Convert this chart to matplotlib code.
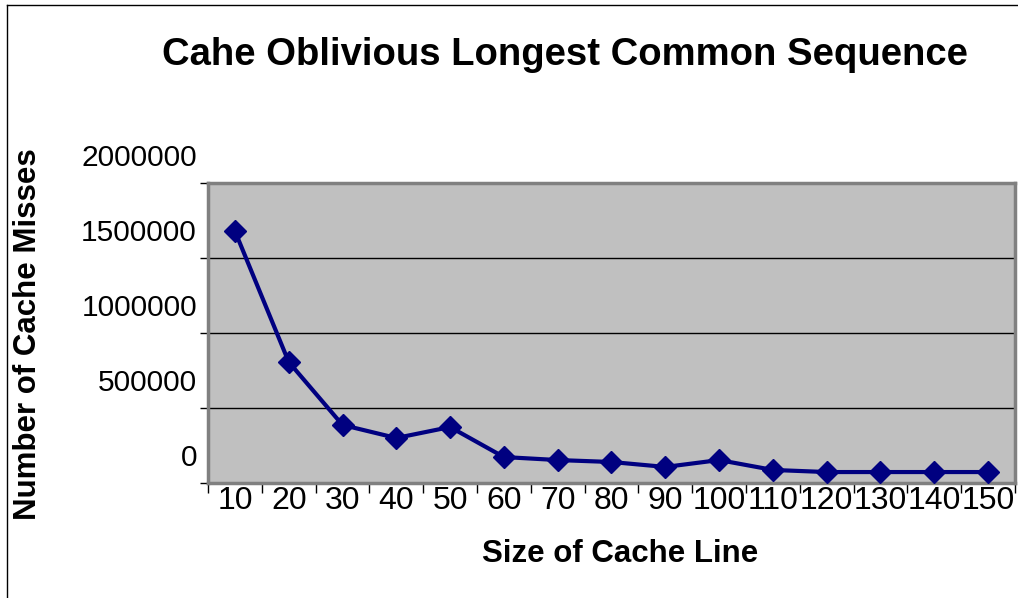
import numpy as np
import matplotlib
matplotlib.use("Agg")
import matplotlib.pyplot as plt
from matplotlib.transforms import ScaledTranslation
from matplotlib.lines import Line2D

# data
line_sizes = ['10', '20', '30', '40', '50', '60', '70', '80', '90', '100',
              '110', '120', '130', '140', '150']
cache_misses = [1680000, 807000, 387000, 300000, 373000, 173000, 153000, 140000,
                107000, 153000, 87000, 73000, 73000, 73000, 73000]
y_ticks = [0, 500000, 1000000, 1500000, 2000000]

plt.rcParams['font.family'] = ['Liberation Sans', 'DejaVu Sans']

fig = plt.figure(figsize=(10.18, 5.98), dpi=100)
ax = fig.add_axes([208 / 1018, 1 - 483 / 598, 807 / 1018, 300 / 598])

x = np.arange(len(line_sizes))
ax.plot(x, cache_misses, color='#000080', lw=3, marker='D', ms=11,
        mfc='#000080', mec='#000080', zorder=5, clip_on=False)

ax.set_facecolor('#c0c0c0')
ax.set_xlim(-0.5, len(line_sizes) - 0.5)
ax.set_ylim(0, 2000000)

# gridlines
for v in y_ticks[1:-1]:
    ax.axhline(v, color='black', lw=1, zorder=1)

for s in ax.spines.values():
    s.set_color('#808080')
    s.set_linewidth(2.5)

# y axis: labels sit a bit above the tick marks, like the original
ax.set_yticks(y_ticks)
ax.set_yticklabels([str(v) for v in y_ticks], fontsize=21.5)
ax.tick_params(axis='y', direction='out', length=6, width=1, color='black', pad=2)
for lab in ax.get_yticklabels():
    lab.set_transform(lab.get_transform() + ScaledTranslation(0, 0.28, fig.dpi_scale_trans))

# x axis: labels at category centres, tick marks between categories
ax.set_xticks(x)
ax.set_xticklabels(line_sizes, fontsize=23)
ax.set_xticks(np.arange(len(line_sizes) + 1) - 0.5, minor=True)
ax.tick_params(axis='x', which='major', length=0, pad=2)
ax.tick_params(axis='x', which='minor', direction='out', length=7, width=1, color='black')

fig.text(565 / 1018, 1 - 55 / 598, 'Cahe Oblivious Longest Common Sequence',
         fontsize=27.5, fontweight='bold', ha='center', va='center')
fig.text(28 / 1018, 1 - 334 / 598, 'Number of Cache Misses', fontsize=22.5,
         fontweight='bold', rotation=90, ha='center', va='center')
fig.text(620 / 1018, 1 - 554 / 598, 'Size of Cache Line', fontsize=22.5,
         fontweight='bold', ha='center', va='center')

# outer chart frame (top and left edges visible)
fig.add_artist(Line2D([7 / 1018, 1], [1 - 5 / 598, 1 - 5 / 598], color='black', lw=1))
fig.add_artist(Line2D([7 / 1018, 7 / 1018], [0, 1 - 5 / 598], color='black', lw=1))

fig.savefig('out.png', dpi=100)
